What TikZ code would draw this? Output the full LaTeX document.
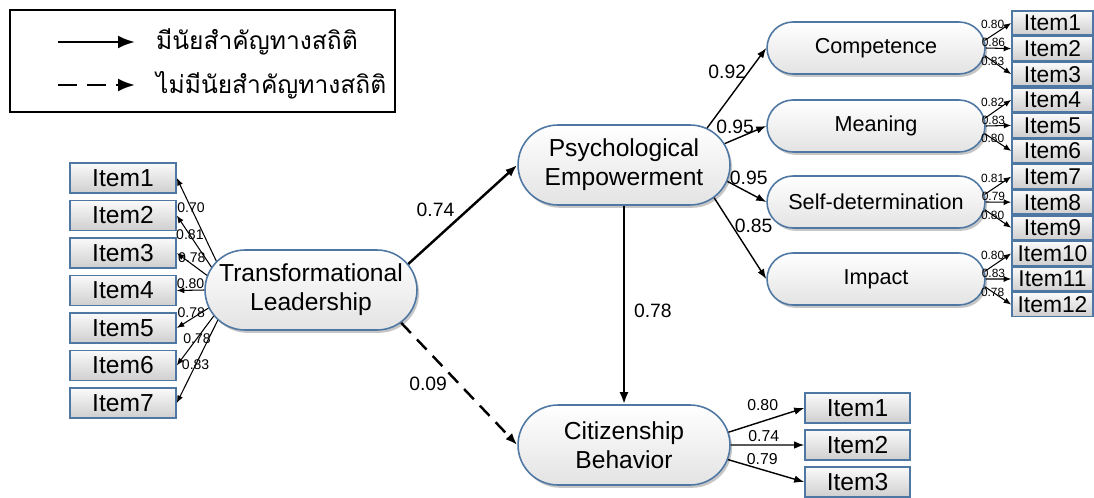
\documentclass[tikz,border=0pt]{standalone}
\usepackage{fontspec}
\setmainfont{Liberation Sans}
\newfontfamily\thaifont[Script=Thai]{Loma}
\usepackage{tikz}
\usetikzlibrary{arrows.meta, calc, positioning, shapes.misc, shadows}
\definecolor{rim}{RGB}{79,119,163}
\newcommand{\squeeze}[1]{\makebox[0pt]{#1}}

\begin{document}
\begin{tikzpicture}[x=0.02cm, y=-0.02cm,
  latent/.style={rounded rectangle, draw=rim, line width=0.9pt, top color=white, middle color=white,
              bottom color=gray!22, drop shadow={opacity=0.45, shadow xshift=1.2pt, shadow yshift=-1.6pt},
              align=center, inner ysep=1pt, inner xsep=0pt},
  construct/.style={latent, minimum width=4.24cm, minimum height=1.6cm,
              font=\fontsize{14}{16.5}\selectfont},
  facet/.style={latent, minimum width=4.36cm, minimum height=1.04cm,
              font=\fontsize{12.3}{14}\selectfont},
  indicator/.style={draw=rim, line width=0.9pt, top color=gray!4, bottom color=gray!38,
              minimum width=2.12cm, minimum height=0.6cm, inner sep=0pt, font=\fontsize{14}{15}\selectfont},
  subindicator/.style={indicator, minimum width=1.62cm, minimum height=0.48cm, font=\fontsize{13}{14}\selectfont},
  effect/.style={-{Latex[length=2.4mm, width=1.8mm]}, line width=1.4pt},
  dimarrow/.style={-{Latex[length=2mm, width=1.5mm]}, line width=0.8pt},
  loading/.style={-{Latex[length=1.5mm, width=1.2mm]}, line width=0.6pt},
  legarrow/.style={-{Latex[length=3.4mm, width=2.6mm]}, line width=1.5pt},
  coef/.style={font=\fontsize{11}{12}\selectfont, inner sep=1pt},
  lw/.style={font=\fontsize{8}{9}\selectfont, inner sep=0.5pt},
  sw/.style={font=\fontsize{6.8}{7}\selectfont, inner sep=0.5pt},
  cw/.style={font=\fontsize{9}{10}\selectfont, inner sep=0.5pt},
  legtext/.style={anchor=west, font=\thaifont\fontsize{14}{16}\selectfont},
]
\useasboundingbox (0,0) rectangle (1094,497);

% Legend
\node[draw, line width=1pt, minimum width=7.7cm, minimum height=2.04cm] (legend) at (202.5,61) {};
\coordinate (sigA) at (58,42);
\coordinate (sigB) at (135,42);
\coordinate (nsA) at (58,85);
\coordinate (nsB) at (135,85);
\draw[legarrow] (sigA) -- (sigB);
\draw[legarrow, dash pattern=on 11pt off 5.5pt] (nsA) -- (nsB);
\node[legtext] (sigtxt) at (150,42) {มีนัยสำคัญทางสถิติ};
\node[legtext] (nstxt) at (150,85) {ไม่มีนัยสำคัญทางสถิติ};

% Latent variables
\node[construct] (TL) at (311,290) {\squeeze{Transformational}\\\squeeze{Leadership}};
\node[construct] (PE) at (624,165) {\squeeze{Psychological}\\\squeeze{Empowerment}};
\node[construct] (CB) at (624,445) {\squeeze{Citizenship}\\\squeeze{Behavior}};

% Dimensions of empowerment
\node[facet] (comp) at (876,48) {\squeeze{Competence}};
\node[facet] (mean) at (876,126) {\squeeze{Meaning}};
\node[facet] (self) at (876,202) {\squeeze{Self-determination}};
\node[facet] (imp) at (876,279) {\squeeze{Impact}};

% Observed items
\foreach \i in {1,...,7}
  \node[indicator] (tl\i) at (123,{178+37.5*(\i-1)}) {Item\i};
\foreach \i in {1,...,12}
  \node[subindicator] (pe\i) at (1052.5,{23+25.6*(\i-1)}) {Item\i};
\foreach \i in {1,2,3}
  \node[indicator, minimum width=2.1cm] (cb\i) at (857.5,{408+37*(\i-1)}) {Item\i};

% Structural paths
\draw[effect] (TL.15) -- node[coef, pos=0.45, above left] {0.74} (PE.west);
\draw[effect, dash pattern=on 8pt off 5pt] (TL.-20) -- node[coef, pos=0.42, below left] {0.09} (CB.west);
\draw[effect] (PE) -- node[coef, pos=0.53, right=4pt] {0.78} (CB);

\draw[dimarrow] (PE.24) -- node[coef, pos=0.7, left] {0.92} (comp.west);
\draw[dimarrow] (PE.12) -- node[coef, pos=0.25, above=2pt] {0.95} (mean.west);
\draw[dimarrow] (PE.-9) -- node[coef, pos=0.55, above=3pt] {0.95} (self.west);
\draw[dimarrow] (PE.-20) -- node[coef, pos=0.35, right] {0.85} (imp.west);

% Loadings
\foreach \i/\ang/\w/\p/\where in {1/163/0.70/0.64/, 2/167/0.81/0.62/, 3/172/0.78/0.5/above,
    4/180/0.80/0.5/above, 5/190/0.78/0.54/above, 6/195/0.78/0.45/, 7/198/0.83/0.54/}
  \draw[loading] (TL.\ang) -- node[lw, pos=\p, \where] {\w} (tl\i.east);

\foreach \f/\a/\b/\c [count=\k from 0] in {comp/0.80/0.86/0.83, mean/0.82/0.83/0.80,
    self/0.81/0.79/0.80, imp/0.80/0.83/0.78} {
  \pgfmathtruncatemacro\ia{3*\k+1}
  \pgfmathtruncatemacro\ib{3*\k+2}
  \pgfmathtruncatemacro\ic{3*\k+3}
  \draw[loading] (\f.4) -- node[sw, pos=0.3, above=3pt] {\a} (pe\ia.west);
  \draw[loading] (\f.east) -- node[sw, pos=0.3, above] {\b} (pe\ib.west);
  \draw[loading] (\f.-4) -- node[sw, pos=0.3] {\c} (pe\ic.west);
}

\foreach \i/\ang/\w/\sh in {1/7/0.80/5pt, 2/0/0.74/1pt, 3/-8/0.79/2pt}
  \draw[dimarrow] (CB.\ang) -- node[cw, pos=0.45, above=\sh] {\w} (cb\i.west);

\end{tikzpicture}
\end{document}
